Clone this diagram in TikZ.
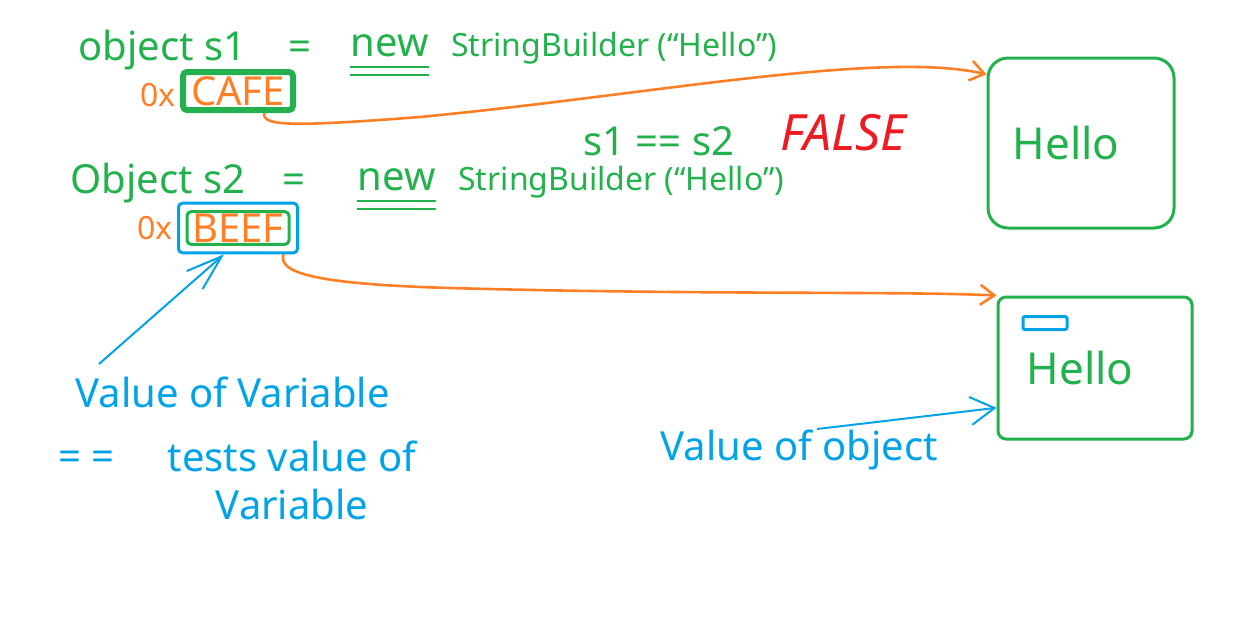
\documentclass[tikz,border=0pt]{standalone}
\usepackage{fontspec}
\setmainfont{Noto Sans}
\usepackage{tikz}
\usetikzlibrary{arrows.meta,positioning,fit}
\definecolor{pgreen}{RGB}{34,177,76}
\definecolor{porange}{RGB}{255,127,39}
\definecolor{pblue}{RGB}{0,162,232}
\definecolor{pred}{RGB}{237,28,36}
\tikzset{
  code/.style   = {text=pgreen, font=\fontsize{20}{24}\selectfont,
                   inner sep=0pt, anchor=base west},
  sbtext/.style = {font=\fontsize{16}{20}\selectfont},
  note/.style   = {text=pblue, font=\fontsize{20}{24}\selectfont,
                   inner sep=0pt, anchor=base west},
  addr/.style   = {draw=pgreen, text=porange, font=\fontsize{20}{24}\selectfont,
                   minimum width=55pt, minimum height=19pt, inner sep=1pt,
                   rounded corners=2pt},
  hilite/.style = {draw=pblue, line width=1.5pt, inner sep=3.5pt,
                   rounded corners=2pt},
  hex/.style    = {text=porange, font=\fontsize{16}{18}\selectfont, inner sep=0pt},
  heap/.style   = {draw=pgreen, line width=1.5pt, text=pgreen,
                   font=\fontsize{22}{26}\selectfont},
  slot/.style   = {draw=pblue, line width=1.5pt, minimum width=22pt,
                   minimum height=6.5pt, inner sep=0pt, rounded corners=1pt},
  ul/.style     = {draw=pgreen, line width=1.2pt},
  ptr/.style    = {draw=porange, line width=1.3pt,
                   -{Straight Barb[length=7pt,width=10pt]}},
  nptr/.style   = {draw=pblue, line width=1pt,
                   -{Straight Barb[length=18pt,width=12pt]}},
}

\begin{document}
\begin{tikzpicture}[x=0.5pt, y=-0.5pt]
\useasboundingbox (0,0) rectangle (1246,621);

%% ── first variable ────────────────────────────────────────
\node[code] (decl1) at (78,60) {object s1};
\node[code, base right=21pt of decl1] (eq1) {=};
\node[code, base right=19pt of eq1, yshift=2pt] (new1) {new};
\node[code, sbtext, base right=11pt of new1] (sb1) {StringBuilder (``Hello'')};
\node[addr, line width=3pt] (cafe) at (238,91) {CAFE};
\node[hex, left=2pt of cafe, yshift=-2pt] (hex1) {0x};

%% ── second variable ───────────────────────────────────────
\node[code] (decl2) at (70,193) {Object s2};
\node[code, base right=18pt of decl2] (eq2) {=};
\node[code, base right=26pt of eq2, yshift=1.5pt] (new2) {new};
\node[code, sbtext, base right=11pt of new2] (sb2) {StringBuilder (``Hello'')};
\node[addr, line width=1.5pt, minimum width=51pt, minimum height=16pt]
  (beef) at (238,228) {BEEF};
\node[hilite, fit=(beef)] (beefmark) {};
\node[hex, left=2pt of beefmark] (hex2) {0x};

%% ── comparison ────────────────────────────────────────────
\node[code] (cmp) at (583,155) {s1 == s2};
\node[code, text=pred, font=\fontsize{25}{28}\selectfont\itshape]
  (res) at (780,150) {FALSE};

%% ── heap objects ──────────────────────────────────────────
\node[heap, minimum width=93pt, minimum height=85pt, rounded corners=10pt]
  (heap1) at (1081,143) {Hello\hspace*{15pt}};
\node[heap, minimum width=97pt, minimum height=71pt, rounded corners=4pt]
  (heap2) at (1095,368) {Hello\hspace*{15pt}};
\node[slot] (hdr) at (1045,323) {};

%% ── notes ─────────────────────────────────────────────────
\node[note] (varnote) at (75,407) {Value of Variable};
\node[note] (eqnote) at (58,470) {= =};
\node[note, anchor=north, align=center] (testnote) at (292,440)
  {tests value of\\Variable};
\node[note] (objnote) at (660,460) {Value of object};

%% ── underlines ────────────────────────────────────────────
\foreach \nn in {new1,new2}
  \foreach \gap in {5,9}
    \draw[ul] ([yshift=-\gap pt]\nn.south west) -- ([yshift=-\gap pt]\nn.south east);

%% ── references ────────────────────────────────────────────
\draw[ptr] (cafe.-40) .. controls (262,126) and (290,127) .. (420,117)
  .. controls (650,95) and (880,50) .. (heap1.144);
\draw[ptr] (beefmark.-30) .. controls (278,272) and (310,284) .. (450,288)
  .. controls (700,295) and (900,291) .. (heap2.north west);

%% ── note arrows ───────────────────────────────────────────
\draw[nptr] ([xshift=12pt,yshift=6pt]varnote.north west) -- (beefmark.-118);
\draw[nptr, -{Straight Barb[length=12pt,width=14pt]}]
  ([xshift=9pt]objnote.north) -- (heap2.202);

\end{tikzpicture}
\end{document}
